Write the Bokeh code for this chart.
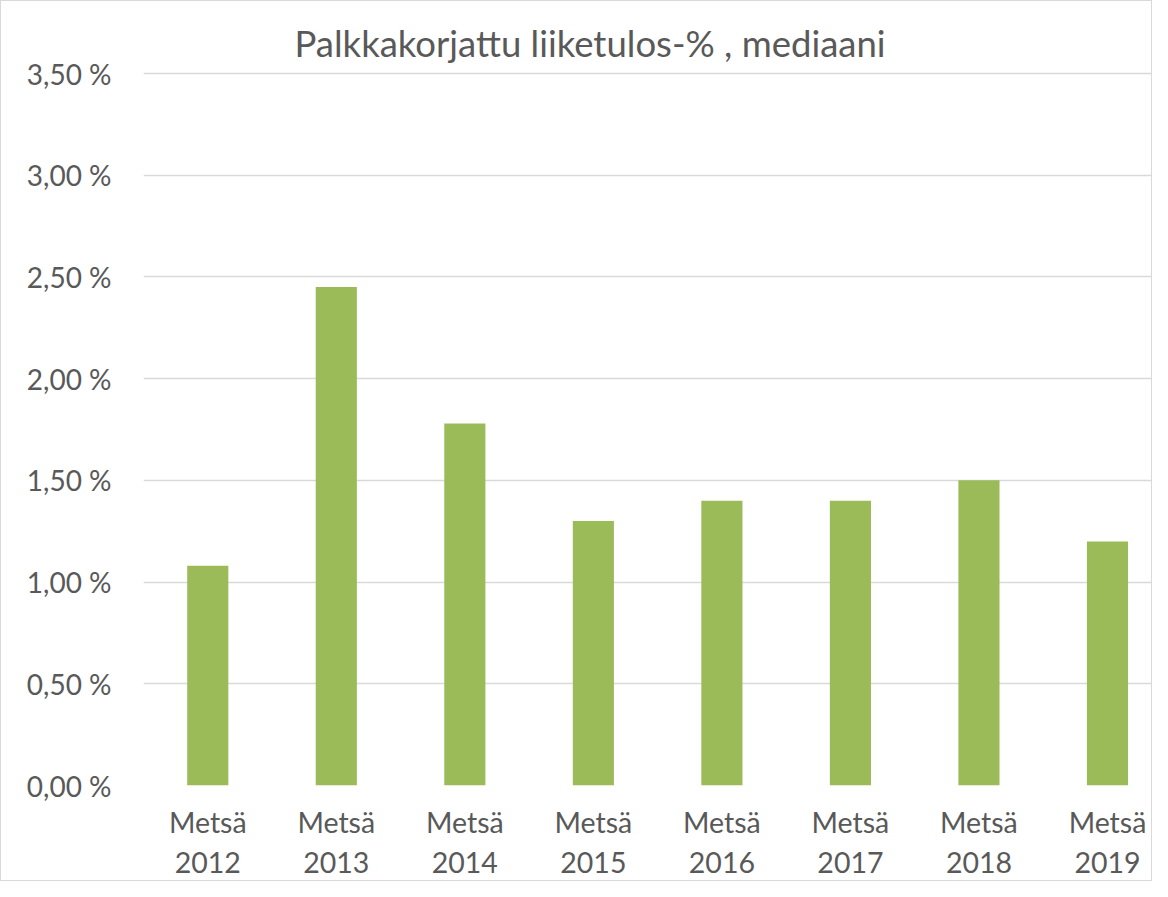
from bokeh.plotting import figure
from bokeh.models import Range1d, FixedTicker
from bokeh.embed import file_html
from bokeh.resources import INLINE

categories = ["Metsä\n2012", "Metsä\n2013", "Metsä\n2014", "Metsä\n2015",
              "Metsä\n2016", "Metsä\n2017", "Metsä\n2018", "Metsä\n2019"]
values = [1.08, 2.45, 1.78, 1.30, 1.40, 1.40, 1.50, 1.20]
y_ticks = [0.0, 0.5, 1.0, 1.5, 2.0, 2.5, 3.0, 3.5]
y_tick_labels = ["0,00 %", "0,50 %", "1,00 %", "1,50 %", "2,00 %", "2,50 %", "3,00 %", "3,50 %"]
title_text = "Palkkakorjattu liiketulos-% , mediaani"

FONT = "Lato"
TEXT_COLOR = "#595959"

xs = list(range(len(categories)))

p = figure(width=1152, height=881, output_backend="svg", toolbar_location=None,
           x_range=Range1d(-0.5, 7.358), y_range=Range1d(0, 3.51),
           min_border_left=142, min_border_right=0, min_border_top=70,
           min_border_bottom=90, title=title_text,
           styles={"border": "1px solid #d9d9d9"})

p.vbar(x=xs, top=values, width=0.32, fill_color="#9BBB59", line_color=None)

p.title.text_font = FONT
p.title.text_font_size = "36.5px"
p.title.text_font_style = "normal"
p.title.text_color = TEXT_COLOR
p.title.align = "left"
p.title.offset = 151
p.title.standoff = 14

p.outline_line_color = None
p.background_fill_color = "white"
p.border_fill_color = "white"

p.xaxis.ticker = FixedTicker(ticks=xs)
p.xaxis.major_label_overrides = {i: c for i, c in zip(xs, categories)}
p.yaxis.ticker = FixedTicker(ticks=y_ticks)
p.yaxis.major_label_overrides = {t: l for t, l in zip(y_ticks, y_tick_labels)}

for ax in (p.xaxis, p.yaxis):
    ax.axis_line_color = None
    ax.major_tick_line_color = None
    ax.minor_tick_line_color = None
    ax.major_label_text_font = FONT
    ax.major_label_text_color = TEXT_COLOR
p.xaxis.major_label_text_font_size = "28.5px"
p.yaxis.major_label_text_font_size = "28px"
p.xaxis.major_label_standoff = 13
p.yaxis.major_label_standoff = 26

p.xgrid.grid_line_color = None
p.ygrid.grid_line_color = "#d9d9d9"
p.ygrid.grid_line_width = 1.5
p.ygrid.ticker = FixedTicker(ticks=y_ticks)

open("out.html", "w").write(file_html(p, INLINE))
